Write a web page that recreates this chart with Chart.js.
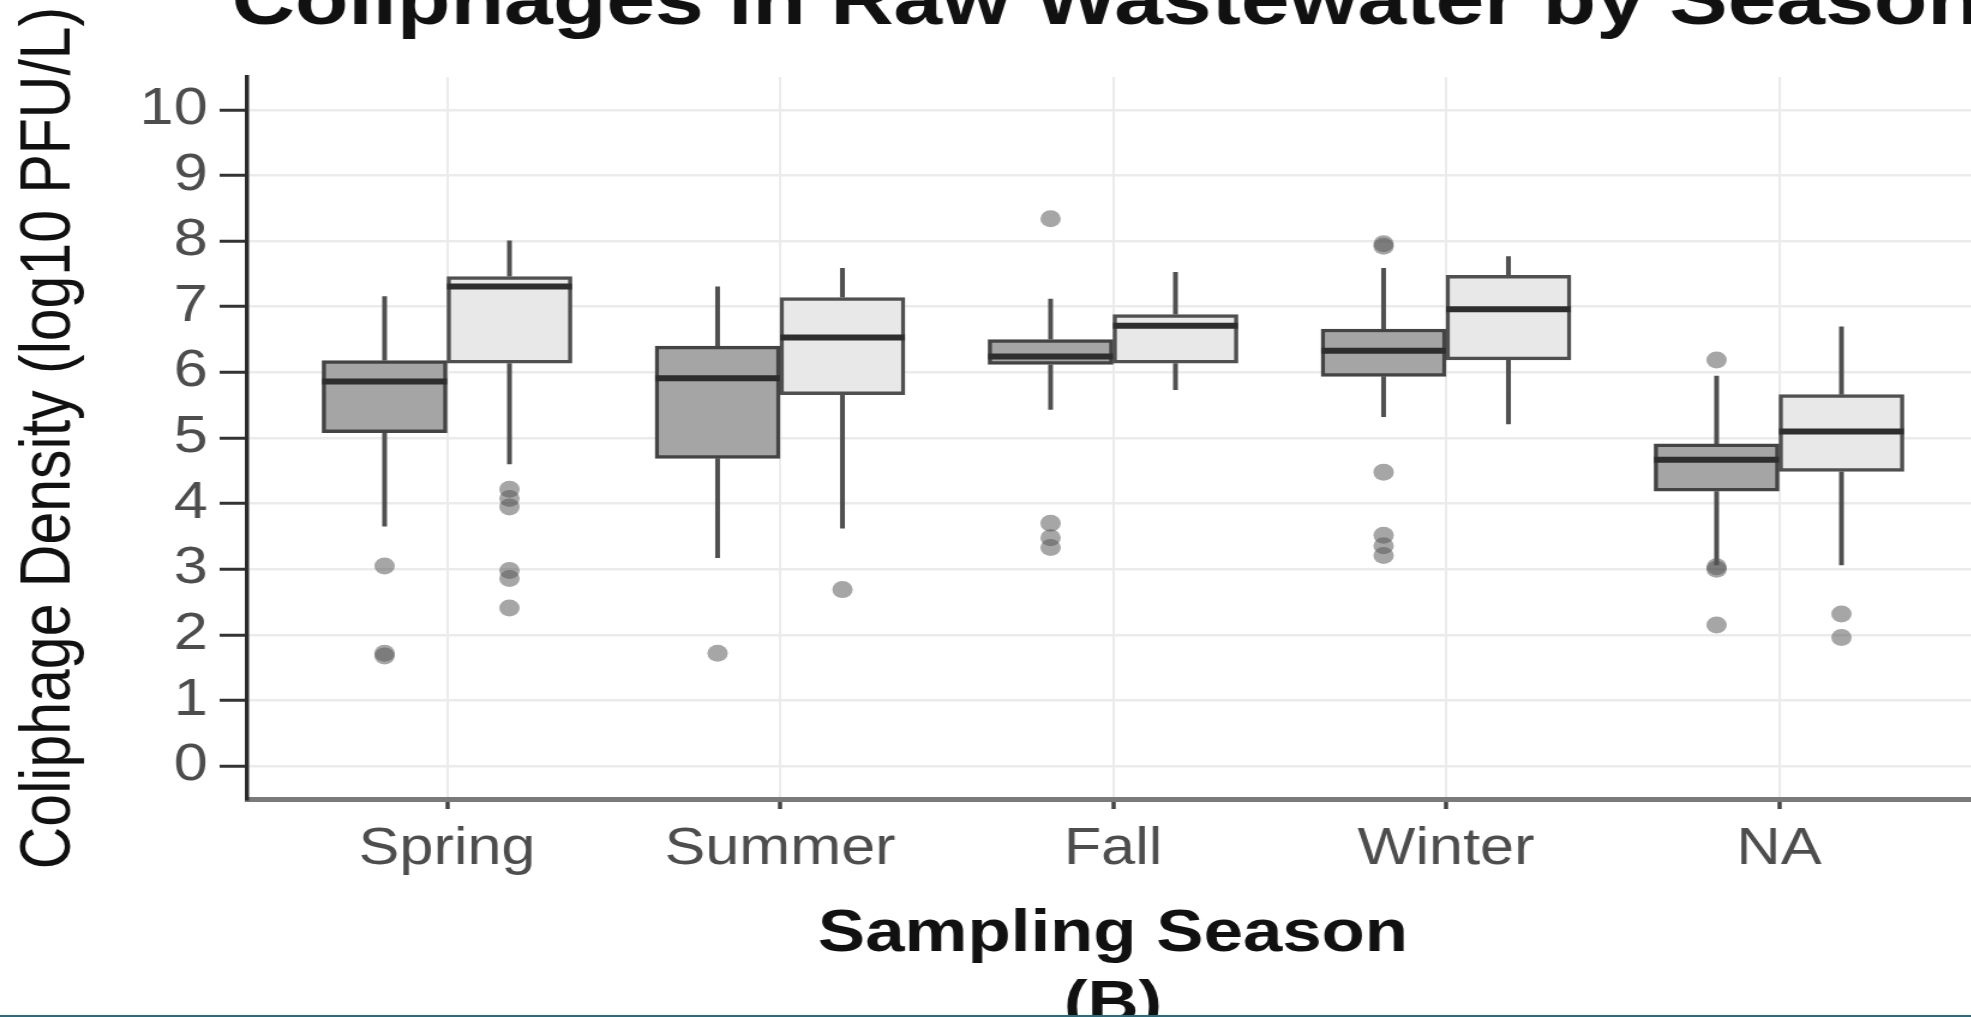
<!DOCTYPE html>
<html>
<head>
<meta charset="utf-8">
<script src="https://cdn.jsdelivr.net/npm/chart.js@4.4.1/dist/chart.umd.min.js"></script>
<style>
html, body { margin: 0; padding: 0; background: #ffffff; overflow: hidden; width: 1971px; height: 1017px; }
#wrap { position: absolute; left: 0; top: -40px; width: 1660px; height: 1100px; transform: scaleX(1.2); transform-origin: 0 0; }
#c { display: block; width: 1660px; height: 1100px; }
#rule { position: absolute; left: 0; bottom: 0; width: 1971px; height: 2px; background: #2b6b7c; }
</style>
</head>
<body>
<div id="wrap"><canvas id="c" width="1660" height="1100"></canvas></div>
<div id="rule"></div>
<script>
// ---------------- data ----------------
const seasons = ['Spring', 'Summer', 'Fall', 'Winter', 'NA'];
const yTickValues = [0, 1, 2, 3, 4, 5, 6, 7, 8, 9, 10];

// dark (left) boxes
const darkLow  = [3.65, 3.17, 5.43, 5.32, 3.06];
const darkQ1   = [5.08, 4.69, 6.12, 5.94, 4.19];
const darkMed  = [5.86, 5.91, 6.24, 6.33, 4.67];
const darkQ3   = [6.18, 6.40, 6.50, 6.66, 4.91];
const darkHigh = [7.16, 7.31, 7.12, 7.59, 5.95];
const darkOut  = [[3.05, 1.72, 1.68], [1.72], [8.34, 3.70, 3.48, 3.33], [7.96, 7.92, 4.48, 3.52, 3.36, 3.21], [6.19, 3.04, 3.00, 2.15]];

// light (right) boxes
const lightLow  = [4.60, 3.62, 5.73, 5.21, 3.06];
const lightQ1   = [6.14, 5.66, 6.14, 6.19, 4.49];
const lightMed  = [7.31, 6.53, 6.71, 6.96, 5.10];
const lightQ3   = [7.46, 7.14, 6.88, 7.48, 5.66];
const lightHigh = [8.01, 7.59, 7.53, 7.77, 6.70];
const lightOut  = [[4.22, 4.08, 3.95, 2.98, 2.86, 2.41], [2.69], [], [], [2.32, 1.96]];

// ---------------- helpers ----------------
const HALF = 0.1875; // half of one dodged box width (category units)
const DARK_OFF = -HALF, LIGHT_OFF = HALF;

function boxData(q1, q3, off) {
  return seasons.map((s, i) => ({ x: i + 1 + off, y: [q1[i], q3[i]] }));
}
function medianData(med, off) {
  const pts = [];
  seasons.forEach((s, i) => {
    const c = i + 1 + off;
    pts.push({ x: c - HALF, y: med[i] }, { x: c + HALF, y: med[i] }, { x: c + HALF, y: null });
  });
  return pts;
}
function whiskerData(low, q1, q3, high, off) {
  const pts = [];
  seasons.forEach((s, i) => {
    const c = i + 1 + off;
    pts.push({ x: c, y: q3[i] }, { x: c, y: high[i] }, { x: c, y: null });
    pts.push({ x: c, y: q1[i] }, { x: c, y: low[i] }, { x: c, y: null });
  });
  return pts;
}
function outlierData(out, off) {
  const pts = [];
  out.forEach((arr, i) => arr.forEach(v => pts.push({ x: i + 1 + off, y: v })));
  return pts;
}

Chart.defaults.font.family = "'Liberation Sans', Arial, Helvetica, sans-serif";

// move the title block so its text starts a little left of the plot panel
const titleShift = {
  id: 'titleShift',
  afterLayout(chart) {
    const t = chart.titleBlock;
    if (!t) return;
    const w = t.right - t.left;
    t.left = chart.chartArea.left - 13;
    t.right = t.left + w;
  }
};

const lineBase = { type: 'line', pointRadius: 0, pointHoverRadius: 0, fill: false, tension: 0, spanGaps: false, borderCapStyle: 'butt' };

new Chart(document.getElementById('c'), {
  type: 'bar',
  plugins: [titleShift],
  data: {
    datasets: [
      Object.assign({}, lineBase, { label: 'median dark', data: medianData(darkMed, DARK_OFF), borderColor: '#2e2e2e', borderWidth: 6, order: 0 }),
      Object.assign({}, lineBase, { label: 'median light', data: medianData(lightMed, LIGHT_OFF), borderColor: '#2e2e2e', borderWidth: 6, order: 0 }),
      { type: 'scatter', label: 'outliers dark', data: outlierData(darkOut, DARK_OFF), pointRadius: 8.5, pointHoverRadius: 8.5, backgroundColor: 'rgba(85,85,85,0.52)', borderWidth: 0, order: 1 },
      { type: 'scatter', label: 'outliers light', data: outlierData(lightOut, LIGHT_OFF), pointRadius: 8.5, pointHoverRadius: 8.5, backgroundColor: 'rgba(85,85,85,0.52)', borderWidth: 0, order: 1 },
      { type: 'bar', label: 'box dark', data: boxData(darkQ1, darkQ3, DARK_OFF), backgroundColor: '#a5a5a5', borderColor: '#444444', borderWidth: 3.5, borderSkipped: false, grouped: false, barPercentage: 1, categoryPercentage: 1, order: 2 },
      { type: 'bar', label: 'box light', data: boxData(lightQ1, lightQ3, LIGHT_OFF), backgroundColor: '#e8e8e8', borderColor: '#505050', borderWidth: 3.5, borderSkipped: false, grouped: false, barPercentage: 1, categoryPercentage: 1, order: 2 },
      Object.assign({}, lineBase, { label: 'whisker dark', data: whiskerData(darkLow, darkQ1, darkQ3, darkHigh, DARK_OFF), borderColor: '#505050', borderWidth: 4, order: 3 }),
      Object.assign({}, lineBase, { label: 'whisker light', data: whiskerData(lightLow, lightQ1, lightQ3, lightHigh, LIGHT_OFF), borderColor: '#505050', borderWidth: 4, order: 3 })
    ]
  },
  options: {
    responsive: false,
    maintainAspectRatio: false,
    devicePixelRatio: 1,
    animation: false,
    events: [],
    layout: { padding: { left: 0, right: 11, top: 0, bottom: 0 } },
    plugins: {
      legend: { display: false },
      tooltip: { enabled: false },
      title: {
        display: true,
        text: 'Coliphages in Raw Wastewater by Season',
        align: 'start',
        color: '#111111',
        font: { size: 73, weight: 'bold' },
        padding: { top: 0, bottom: 29.4 }
      }
    },
    scales: {
      x: {
        type: 'linear',
        min: 0.4,
        max: 5.6,
        offset: false,
        afterBuildTicks: (s) => { s.ticks = seasons.map((_, i) => ({ value: i + 1 })); },
        afterFit: (s) => { s.height = 261; },
        ticks: {
          callback: (v) => seasons[Math.round(v) - 1],
          color: '#4d4d4d',
          font: { size: 51 },
          padding: 10,
          autoSkip: false,
          maxRotation: 0,
          minRotation: 0
        },
        grid: { offset: false, color: '#ebebeb', lineWidth: 2, tickLength: 10, tickColor: '#444444', tickWidth: 3.5 },
        border: { color: '#7a7a7a', width: 5 },
        title: {
          display: true,
          text: ['Sampling Season', '(B)'],
          color: '#111111',
          font: { size: 59, weight: 'bold' },
          padding: { top: 0, bottom: 19 }
        }
      },
      y: {
        type: 'linear',
        min: -0.5,
        max: 10.5,
        afterBuildTicks: (s) => { s.ticks = yTickValues.map(v => ({ value: v })); },
        afterFit: (s) => { s.width = 206; },
        ticks: {
          callback: (v) => String(v),
          color: '#4d4d4d',
          font: { size: 51 },
          padding: 10
        },
        grid: { color: '#ebebeb', lineWidth: 2.5, tickLength: 23, tickColor: '#333333', tickWidth: 3 },
        border: { color: '#2b2b2b', width: 3.5 },
        title: {
          display: true,
          text: 'Coliphage Density (log10 PFU/L)',
          color: '#111111',
          font: { size: 59 },
          padding: { top: 6.6, bottom: 0 }
        }
      }
    }
  }
});
</script>
</body>
</html>
